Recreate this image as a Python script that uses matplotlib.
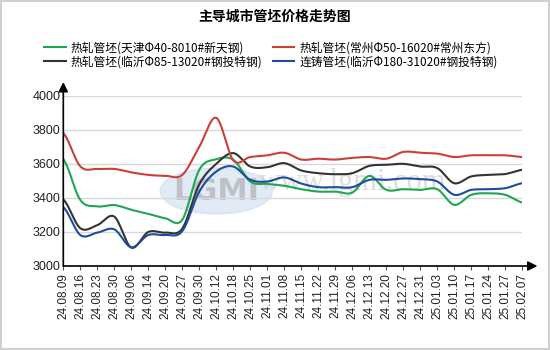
import matplotlib
matplotlib.use("Agg")
import matplotlib.pyplot as plt
from matplotlib.patches import Ellipse
import numpy as np

plt.rcParams['font.family'] = ['Noto Sans CJK SC', 'DejaVu Sans']

dates = ['24.08.09', '24.08.16', '24.08.23', '24.08.30', '24.09.06', '24.09.14', '24.09.20',
         '24.09.27', '24.09.30', '24.10.12', '24.10.18', '24.10.25', '24.11.01', '24.11.08',
         '24.11.15', '24.11.22', '24.11.29', '24.12.06', '24.12.13', '24.12.20', '24.12.27',
         '24.12.31', '25.01.03', '25.01.10', '25.01.17', '25.01.24', '25.01.27', '25.02.07']

tianjin = [3627, 3388, 3350, 3358, 3330, 3306, 3280, 3272, 3565, 3627, 3624, 3496, 3482, 3471,
           3451, 3437, 3437, 3431, 3529, 3447, 3451, 3447, 3451, 3359, 3418, 3427, 3418, 3373]
changzhou = [3780, 3585, 3570, 3570, 3550, 3535, 3530, 3535, 3700, 3870, 3620, 3640, 3650, 3665,
             3625, 3630, 3625, 3635, 3640, 3630, 3670, 3665, 3660, 3640, 3650, 3650, 3650, 3640]
linyi_hot = [3390, 3222, 3240, 3290, 3108, 3200, 3196, 3220, 3480, 3600, 3663, 3584, 3580, 3604,
             3561, 3545, 3539, 3545, 3588, 3594, 3600, 3584, 3575, 3486, 3526, 3535, 3540, 3565]
linyi_cast = [3345, 3182, 3196, 3215, 3110, 3182, 3182, 3205, 3437, 3555, 3584, 3506, 3496, 3520,
              3484, 3463, 3463, 3463, 3506, 3506, 3514, 3510, 3496, 3418, 3447, 3451, 3457, 3486]

labels = ['热轧管坯(天津Φ40-8010#新天钢)', '热轧管坯(临沂Φ85-13020#钢投特钢)',
          '热轧管坯(常州Φ50-16020#常州东方)', '连铸管坯(临沂Φ180-31020#钢投特钢)']
colors = ['#1ea651', '#333333', '#c9403b', '#1f4b9e']


def smooth(y, steps=20):
    # Catmull-Rom spline through the points
    y = np.asarray(y, dtype=float)
    p = np.concatenate([[y[0]], y, [y[-1]]])
    xs, ys = [], []
    for i in range(len(y) - 1):
        p0, p1, p2, p3 = p[i], p[i + 1], p[i + 2], p[i + 3]
        t = np.linspace(0, 1, steps, endpoint=False)
        v = 0.5 * ((2 * p1) + (-p0 + p2) * t + (2 * p0 - 5 * p1 + 4 * p2 - p3) * t ** 2
                   + (-p0 + 3 * p1 - 3 * p2 + p3) * t ** 3)
        xs.extend(i + t)
        ys.extend(v)
    xs.append(len(y) - 1)
    ys.append(y[-1])
    return np.array(xs), np.array(ys)


fig = plt.figure(figsize=(5.5, 3.5), dpi=100)
fig.patch.set_edgecolor('#d0d0d0')
fig.patch.set_linewidth(1.5)

ax = fig.add_axes([63.3 / 550, 84 / 350, 459 / 550, 170.3 / 350])
ax.set_xlim(0, 27)
ax.set_ylim(3000, 4000)

# watermark
ax.add_patch(Ellipse((9.0, 3440), 6.6, 270, color='#bcd3ea', alpha=0.45, zorder=0))
ax.text(9.0, 3440, 'LGMI', fontsize=22, color='#a8a8a8', alpha=0.6, ha='center', va='center',
        family='DejaVu Sans', fontweight='bold', zorder=0)
ax.text(17.0, 3490, 'www.lgmi.com', fontsize=22, color='#c8c8c8', alpha=0.6, ha='center',
        va='center', family='Liberation Serif', zorder=0)

series = [tianjin, linyi_hot, changzhou, linyi_cast]
handles = []
for data, c, lab in zip(series, colors, labels):
    sx, sy = smooth(data)
    h, = ax.plot(sx, sy, color=c, lw=1.5, label=lab, zorder=3)
    handles.append(h)

ax.set_yticks([3000, 3200, 3400, 3600, 3800, 4000])
ax.grid(axis='y', color='#d8d8d8', lw=1)
ax.set_axisbelow(True)
for s in ['top', 'right', 'left', 'bottom']:
    ax.spines[s].set_visible(False)

ax.set_xticks(range(len(dates)))
ax.set_xticklabels(dates, rotation=90, fontsize=8.5, family='Liberation Sans', color='#222222')
ax.tick_params(axis='x', length=3, color='#555555', pad=2)
ax.tick_params(axis='y', length=0, pad=2, labelsize=9, labelcolor='#222222')
for t in ax.get_yticklabels():
    t.set_family('Liberation Sans')

ax.annotate('', xy=(1.033, 0), xytext=(0, 0), xycoords='axes fraction',
            arrowprops=dict(arrowstyle='-|>', color='black', lw=1.2, mutation_scale=14,
                            shrinkA=0, shrinkB=0))
ax.annotate('', xy=(0, 1.08), xytext=(0, 0), xycoords='axes fraction',
            arrowprops=dict(arrowstyle='-|>', color='black', lw=1.2, mutation_scale=14,
                            shrinkA=0, shrinkB=0))

fig.text(0.5, 1 - 17 / 350, '主导城市管坯价格走势图', ha='center', va='center',
         fontsize=10, fontweight='bold')

fig.legend(handles=handles, labels=labels, ncol=2, loc='center', frameon=False,
           bbox_to_anchor=(271 / 550, 1 - 55 / 350), fontsize=8.5, handlelength=1.8,
           handletextpad=0.45, columnspacing=0.85, labelspacing=0.1)

fig.savefig('out.png', dpi=100, edgecolor=fig.get_edgecolor())
